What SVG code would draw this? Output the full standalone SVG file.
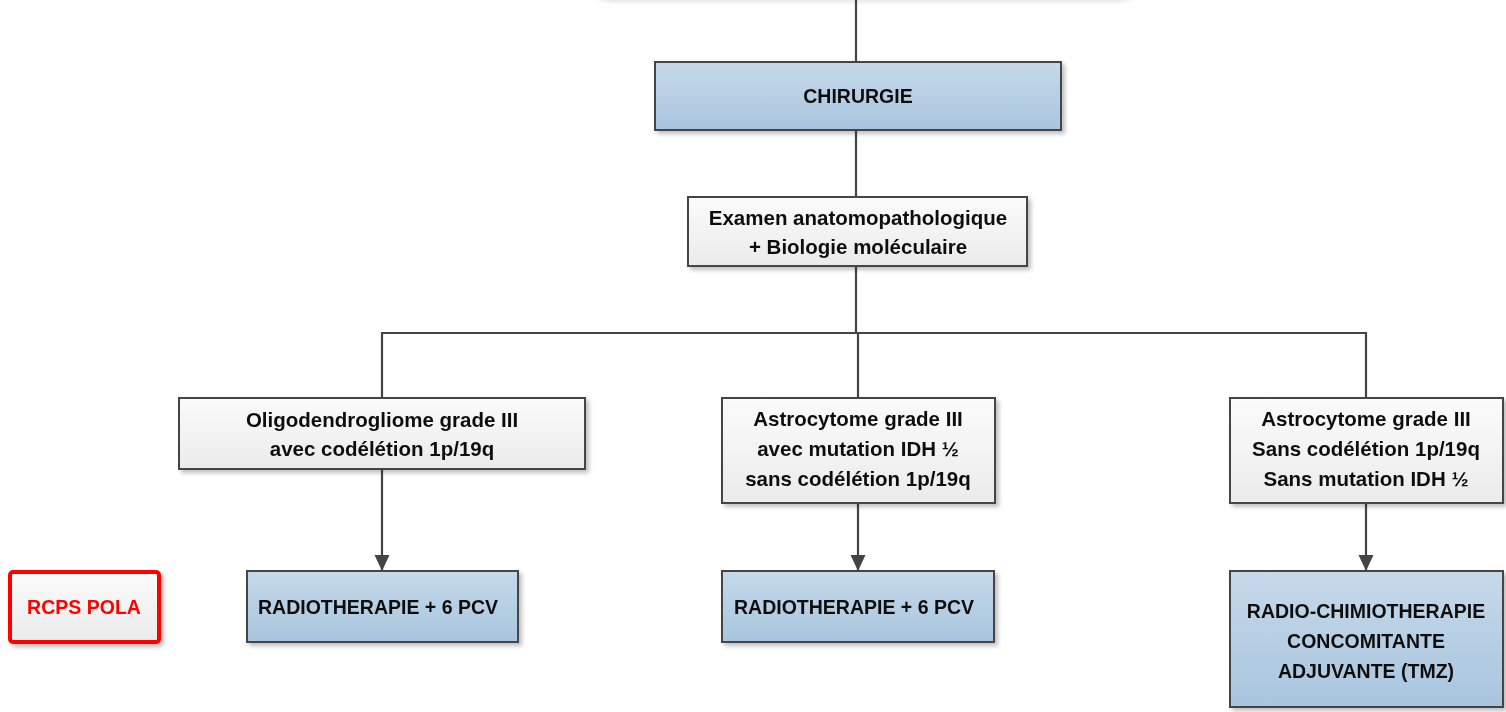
<svg xmlns="http://www.w3.org/2000/svg" width="1506" height="712" viewBox="0 0 1506 712">
  <style>
    .box { stroke: #454545; stroke-width: 2; }
    .blue { fill: url(#gBlue); }
    .grey { fill: url(#gGrey); }
    .lbl { font-family: "Liberation Sans", Arial, sans-serif; font-weight: bold; fill: #111; text-anchor: middle; }
    .wl { font-size: 20.5px; }
    .bl { font-size: 19.5px; }
    .wire { fill: none; stroke: #444; stroke-width: 2.2; }
  </style>
  <defs>
    <linearGradient id="gBlue" x1="0" y1="0" x2="0" y2="1">
      <stop offset="0" stop-color="#c6d9ea"/>
      <stop offset="1" stop-color="#a8c5de"/>
    </linearGradient>
    <linearGradient id="gGrey" x1="0" y1="0" x2="0" y2="1">
      <stop offset="0" stop-color="#fbfbfb"/>
      <stop offset="1" stop-color="#ebebeb"/>
    </linearGradient>
    <filter id="shadow" x="-5%" y="-10%" width="115%" height="130%">
      <feGaussianBlur in="SourceAlpha" stdDeviation="2"/>
      <feOffset dx="3" dy="3" result="b"/>
      <feComponentTransfer><feFuncA type="linear" slope="0.25"/></feComponentTransfer>
      <feMerge><feMergeNode/><feMergeNode in="SourceGraphic"/></feMerge>
    </filter>
    <filter id="soft"><feGaussianBlur stdDeviation="2"/></filter>
    <marker id="arrow" markerWidth="18" markerHeight="18" refX="16" refY="9" orient="auto" markerUnits="userSpaceOnUse">
      <path d="M0,1.5 L16,9 L0,16.5 Z" fill="#444"/>
    </marker>
  </defs>

  <rect width="1506" height="712" fill="#ffffff"/>

  <!-- lower edge of the start shape above the frame -->
  <g id="start-edge">
    <rect x="585" y="-40" width="560" height="42" rx="30" fill="#e4e4e4" filter="url(#soft)"/>
    <rect x="582" y="-45" width="560" height="44" rx="30" fill="#ffffff"/>
  </g>

  <!-- connectors -->
  <g id="connectors">
    <path class="wire" d="M856,0 V62"/>
    <path class="wire" d="M856,130 V197"/>
    <path class="wire" d="M856,266 V333"/>
    <path class="wire" d="M382,398 V333 H1366 V398"/>
    <path class="wire" d="M858,333 V398"/>
    <path class="wire" d="M382,469 V571" marker-end="url(#arrow)"/>
    <path class="wire" d="M858,503 V571" marker-end="url(#arrow)"/>
    <path class="wire" d="M1366,503 V571" marker-end="url(#arrow)"/>
  </g>

  <g id="chirurgie" filter="url(#shadow)">
    <rect class="box blue" x="655" y="62" width="406" height="68"/>
    <text class="lbl bl" x="858" y="103">CHIRURGIE</text>
  </g>

  <g id="examen" filter="url(#shadow)">
    <rect class="box grey" x="688" y="197" width="339" height="69"/>
    <text class="lbl wl" x="858" y="225">Examen anatomopathologique</text>
    <text class="lbl wl" x="858" y="254">+ Biologie moléculaire</text>
  </g>

  <g id="oligo" filter="url(#shadow)">
    <rect class="box grey" x="179" y="398" width="406" height="71"/>
    <text class="lbl wl" x="382" y="427">Oligodendrogliome grade III</text>
    <text class="lbl wl" x="382" y="456">avec codélétion 1p/19q</text>
  </g>

  <g id="astro-idh" filter="url(#shadow)">
    <rect class="box grey" x="722" y="398" width="273" height="105"/>
    <text class="lbl wl" x="858" y="426">Astrocytome grade III</text>
    <text class="lbl wl" x="858" y="456">avec mutation IDH ½</text>
    <text class="lbl wl" x="858" y="486">sans codélétion 1p/19q</text>
  </g>

  <g id="astro-wt" filter="url(#shadow)">
    <rect class="box grey" x="1230" y="398" width="273" height="105"/>
    <text class="lbl wl" x="1366" y="426">Astrocytome grade III</text>
    <text class="lbl wl" x="1366" y="456">Sans codélétion 1p/19q</text>
    <text class="lbl wl" x="1366" y="486">Sans mutation IDH ½</text>
  </g>

  <g id="rcps" filter="url(#shadow)">
    <rect x="10" y="572" width="149" height="70" rx="3" fill="url(#gGrey)" stroke="#ff0000" stroke-width="4"/>
    <text class="lbl bl" x="84" y="614" style="fill:#ff0000">RCPS POLA</text>
  </g>

  <g id="rt-oligo" filter="url(#shadow)">
    <rect class="box blue" x="247" y="571" width="271" height="71"/>
    <text class="lbl bl" x="378" y="614">RADIOTHERAPIE + 6 PCV</text>
  </g>

  <g id="rt-astro" filter="url(#shadow)">
    <rect class="box blue" x="722" y="571" width="272" height="71"/>
    <text class="lbl bl" x="854" y="614">RADIOTHERAPIE + 6 PCV</text>
  </g>

  <g id="rct-tmz" filter="url(#shadow)">
    <rect class="box blue" x="1230" y="571" width="273" height="136"/>
    <text class="lbl bl" x="1366" y="618">RADIO-CHIMIOTHERAPIE</text>
    <text class="lbl bl" x="1366" y="648">CONCOMITANTE</text>
    <text class="lbl bl" x="1366" y="678">ADJUVANTE (TMZ)</text>
  </g>
</svg>
